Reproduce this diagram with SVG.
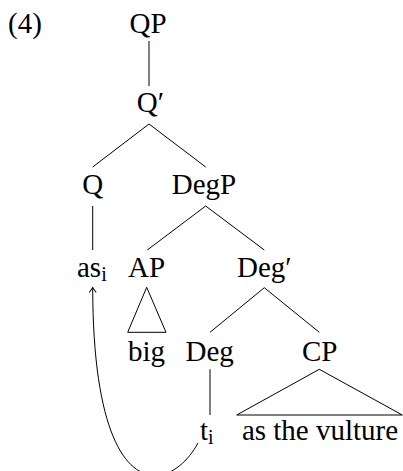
<svg xmlns="http://www.w3.org/2000/svg" width="403" height="471" viewBox="0 0 403 471">
<style>
text{font-family:"Liberation Serif","Times New Roman",serif;font-size:29px;fill:#000}
.m{text-anchor:middle}
.sub{font-size:20px}
.e{stroke:#000;stroke-width:1;fill:none}
</style>
<defs>
<marker id="ah" markerUnits="userSpaceOnUse" markerWidth="12" markerHeight="12" viewBox="-6 -6 12 12" refX="0" refY="0" orient="auto">
<path d="M-5,-3.5 C-2.5,-1.5 -0.8,-0.5 0,0 C-0.8,0.5 -2.5,1.5 -5,3.5" fill="none" stroke="#000" stroke-width="1"/>
</marker>
</defs>
<rect width="403" height="471" fill="#fff"/>
<text x="8" y="33">(4)</text>
<g id="connectors">
<line class="e" x1="149" y1="41" x2="149" y2="86"/>
<line class="e" x1="149" y1="124" x2="92.7" y2="167"/>
<line class="e" x1="149" y1="124" x2="205.7" y2="167"/>
<line class="e" x1="92.7" y1="206" x2="92.7" y2="250"/>
<line class="e" x1="205.7" y1="206" x2="147.3" y2="250"/>
<line class="e" x1="205.7" y1="206" x2="264.3" y2="250"/>
<polygon class="e" points="146.7,287.3 127.7,332.3 166,332.3"/>
<line class="e" x1="264.3" y1="287.7" x2="210" y2="332.3"/>
<line class="e" x1="264.3" y1="287.7" x2="319.3" y2="332.3"/>
<line class="e" x1="210" y1="369.3" x2="210" y2="415"/>
<polygon class="e" points="319.3,369.3 236.7,415 402.3,415"/>
<path class="e" d="M198,443 C170,495 93,510 92.7,287.5" marker-end="url(#ah)"/>
</g>
<g id="QP"><text class="m" x="148" y="33">QP</text></g>
<g id="Qbar"><text class="m" x="150.5" y="112">Q′</text></g>
<g id="Q"><text class="m" x="92.7" y="194">Q</text></g>
<g id="DegP"><text class="m" x="204" y="194">DegP</text></g>
<g id="as"><text x="77" y="277">as<tspan class="sub" dy="4">i</tspan></text></g>
<g id="AP"><text class="m" x="146.5" y="277">AP</text></g>
<g id="Degbar"><text x="237" y="277">Deg′</text></g>
<g id="big"><text class="m" x="146.5" y="361">big</text></g>
<g id="Deg"><text class="m" x="209.7" y="361">Deg</text></g>
<g id="CP"><text class="m" x="319.7" y="361">CP</text></g>
<g id="t"><text x="200" y="440">t<tspan class="sub" dy="4">i</tspan></text></g>
<g id="vulture"><text class="m" x="320" y="440">as the vulture</text></g>
</svg>
